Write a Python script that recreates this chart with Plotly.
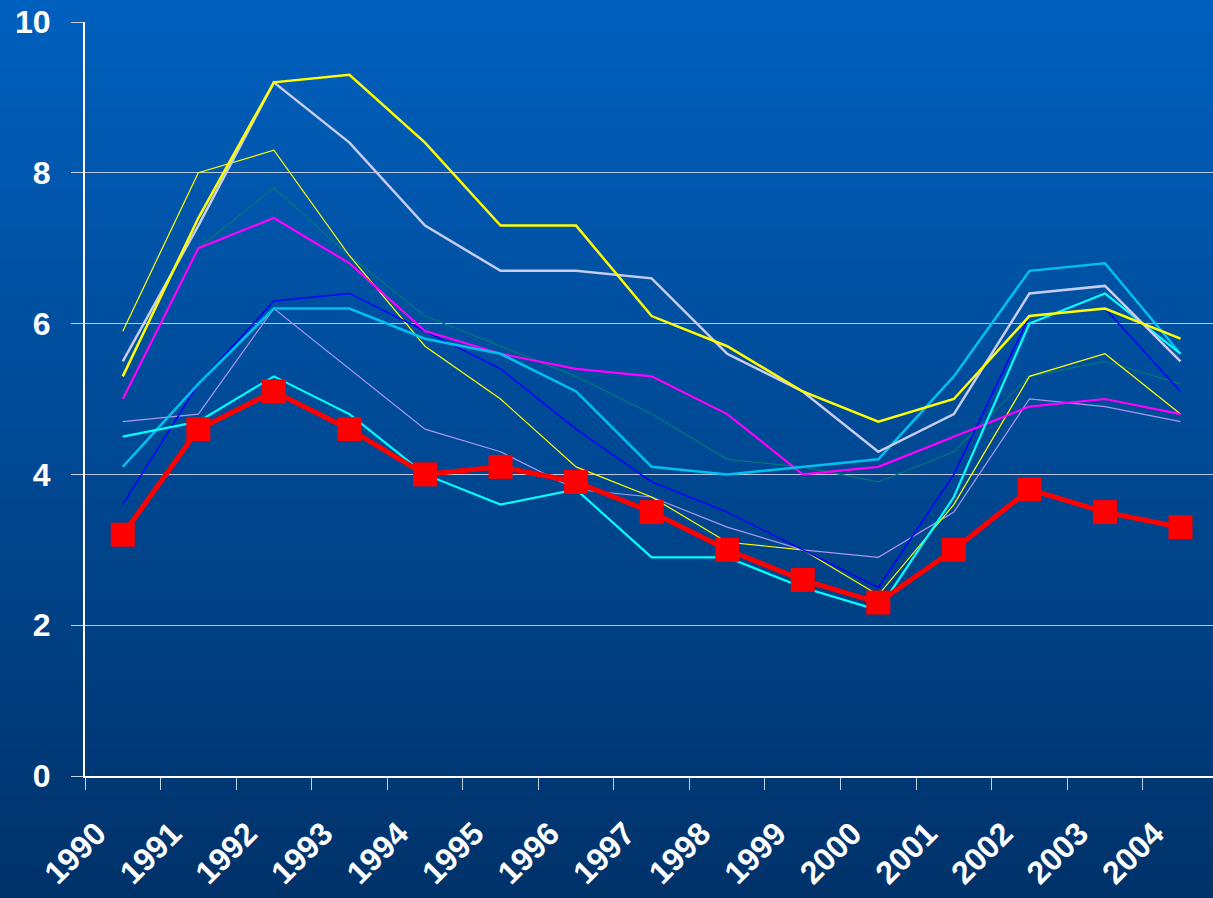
import plotly.graph_objects as go

years = [str(y) for y in range(1990, 2005)]

yellow_thick = [5.3, 7.4, 9.2, 9.3, 8.4, 7.3, 7.3, 6.1, 5.7, 5.1, 4.7, 5.0, 6.1, 6.2, 5.8]
lavender     = [5.5, 7.3, 9.2, 8.4, 7.3, 6.7, 6.7, 6.6, 5.6, 5.1, 4.3, 4.8, 6.4, 6.5, 5.5]
yellow_thin  = [5.9, 8.0, 8.3, 6.9, 5.7, 5.0, 4.1, 3.7, 3.1, 3.0, 2.4, 3.6, 5.3, 5.6, 4.8]
teal         = [5.0, 7.0, 7.8, 6.9, 6.1, 5.7, 5.3, 4.8, 4.2, 4.1, 3.9, 4.3, 5.3, 5.5, 5.2]
magenta      = [5.0, 7.0, 7.4, 6.8, 5.9, 5.6, 5.4, 5.3, 4.8, 4.0, 4.1, 4.5, 4.9, 5.0, 4.8]
blue         = [3.6, 5.2, 6.3, 6.4, 5.9, 5.4, 4.6, 3.9, 3.5, 3.0, 2.5, 4.0, 6.1, 6.2, 5.1]
skyblue      = [4.1, 5.2, 6.2, 6.2, 5.8, 5.6, 5.1, 4.1, 4.0, 4.1, 4.2, 5.3, 6.7, 6.8, 5.6]
cyan         = [4.5, 4.7, 5.3, 4.8, 4.0, 3.6, 3.8, 2.9, 2.9, 2.5, 2.2, 3.7, 6.0, 6.4, 5.6]
light_purple = [4.7, 4.8, 6.2, 5.4, 4.6, 4.3, 3.8, 3.7, 3.3, 3.0, 2.9, 3.5, 5.0, 4.9, 4.7]
red_main     = [3.2, 4.6, 5.1, 4.6, 4.0, 4.1, 3.9, 3.5, 3.0, 2.6, 2.3, 3.0, 3.8, 3.5, 3.3]

series = [
    ("light_purple", light_purple, "#A898F0", 1.2),
    ("teal", teal, "#007878", 1.2),
    ("yellow_thin", yellow_thin, "#FFFF00", 1.2),
    ("blue", blue, "#0000FF", 1.5),
    ("magenta", magenta, "#FF00FF", 2.2),
    ("skyblue", skyblue, "#00C0F0", 2.5),
    ("cyan", cyan, "#00FFFF", 2.2),
    ("lavender", lavender, "#C8CCF0", 2.5),
    ("yellow_thick", yellow_thick, "#FFFF00", 2.5),
]

fig = go.Figure()
for name, vals, col, w in series:
    fig.add_trace(go.Scatter(x=years, y=vals, mode="lines", name=name,
                             line=dict(color=col, width=w)))
fig.add_trace(go.Scatter(x=years, y=red_main, mode="lines+markers", name="main",
                         line=dict(color="#FF0000", width=5),
                         marker=dict(symbol="square", size=24, color="#FF0000")))

# background gradient
W, H = 1213, 898
L, T, B = 85, 22, 776
R_px = 1213
pw = R_px - L
ph = B - T
n = 90
top = (0, 96, 190)
bot = (0, 50, 106)
shapes = []
for i in range(n):
    y0p = i * H / n
    y1p = (i + 1) * H / n
    f = (i + 0.5) / n
    c = tuple(round(top[k] + (bot[k] - top[k]) * f) for k in range(3))
    shapes.append(dict(type="rect", xref="paper", yref="paper", layer="below",
                       x0=(0 - L) / pw - 0.01, x1=(W - L) / pw + 0.01,
                       y0=(B - y1p - 0.5) / ph, y1=(B - y0p + 0.5) / ph,
                       fillcolor="rgb(%d,%d,%d)" % c, line=dict(width=0)))

fig.update_layout(
    width=W, height=H,
    margin=dict(l=L, r=W - R_px, t=T, b=H - B, pad=0),
    paper_bgcolor="rgb(0,72,148)",
    plot_bgcolor="rgba(0,0,0,0)",
    showlegend=False,
    shapes=shapes,
    font=dict(family="Arial, Liberation Sans, sans-serif", color="white"),
)
fig.update_xaxes(
    type="category", range=[-0.5, 14.43], tickson="boundaries",
    showgrid=False, showline=True, linecolor="white", linewidth=2,
    ticks="outside", ticklen=12, tickcolor="#C8D0E0", tickwidth=1,
    tickangle=-45,
    tickfont=dict(family="Arial, Liberation Sans", size=32, weight="bold", color="white"),
    ticklabelstandoff=24, ticklabelshift=-26,
    zeroline=False,
)
fig.update_yaxes(
    range=[0, 10], dtick=2, showgrid=True, gridcolor="#B8C8E0", gridwidth=1,
    showline=True, linecolor="white", linewidth=2,
    ticks="outside", ticklen=12, tickcolor="#C8D0E0", tickwidth=1,
    tickfont=dict(family="Arial, Liberation Sans", size=32, weight="bold", color="white"),
    zeroline=False, ticklabelstandoff=14,
)

fig.write_html("out.html", config={"displayModeBar": False},
               post_script="document.body.style.margin='0px';")
